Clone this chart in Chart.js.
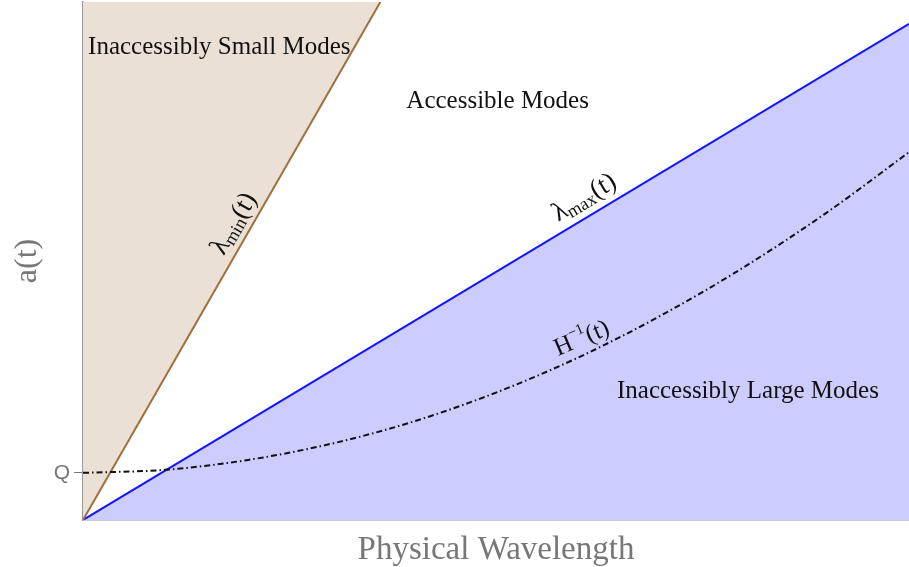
<!DOCTYPE html>
<html>
<head>
<meta charset="utf-8">
<script src="https://cdn.jsdelivr.net/npm/chart.js@4.4.1/dist/chart.umd.min.js"></script>
<style>
  html, body { margin: 0; padding: 0; background: #ffffff; }
  #wrap { width: 909px; height: 567px; }
</style>
</head>
<body>
<div id="wrap"><canvas id="c" width="909" height="567"></canvas></div>
<script>
// Physical wavelength (x) against scale factor a(t) (y), arbitrary units
const lambdaMinX = [0, 3.6];
const lambdaMinY = [0, 10];
const lambdaMaxX = [0, 10];
const lambdaMaxY = [0, 9.58];
const hubbleX = [0, 1, 2, 3, 4, 5, 6, 7, 8, 9, 10];
const hubbleY = [0.91, 0.97, 1.16, 1.47, 1.90, 2.46, 3.14, 3.95, 4.88, 5.93, 7.10];
const qValue = 0.91;
const yTickLabels = ['Q'];

const pts = (xs, ys) => xs.map((x, i) => ({ x: x, y: ys[i] }));

const SERIF = '"Liberation Serif", "Times New Roman", serif';
const SANS = '"Liberation Sans", Arial, sans-serif';

// Region and curve labels, placed in data coordinates
const labels = [
  { x: 1.65, y: 9.13, rot: 0, parts: [{ t: 'Inaccessibly Small Modes', s: 25 }] },
  { x: 5.02, y: 8.09, rot: 0, parts: [{ t: 'Accessible Modes', s: 25 }] },
  { x: 8.05, y: 2.49, rot: 0, parts: [{ t: 'Inaccessibly Large Modes', s: 25 }] },
  { x: 1.83, y: 5.72, rot: -60, parts: [{ t: 'λ', s: 27 }, { t: 'min', s: 18, dy: 6 }, { t: '(t)', s: 27 }] },
  { x: 6.07, y: 6.22, rot: -31, parts: [{ t: 'λ', s: 27 }, { t: 'max', s: 18, dy: 6 }, { t: '(t)', s: 27 }] },
  { x: 6.04, y: 3.50, rot: -23, parts: [{ t: 'H', s: 25 }, { t: '−1', s: 15, dy: -9 }, { t: '(t)', s: 25 }] }
];

const labelPlugin = {
  id: 'regionLabels',
  afterDatasetsDraw(chart) {
    const ctx = chart.ctx;
    const xs = chart.scales.x, ys = chart.scales.y;
    labels.forEach(l => {
      const px = xs.getPixelForValue(l.x);
      const py = ys.getPixelForValue(l.y);
      ctx.save();
      ctx.translate(px, py);
      ctx.rotate(l.rot * Math.PI / 180);
      ctx.fillStyle = '#111111';
      ctx.textBaseline = 'middle';
      ctx.textAlign = 'left';
      let total = 0;
      l.parts.forEach(p => {
        ctx.font = p.s + 'px ' + SERIF;
        p.w = ctx.measureText(p.t).width;
        total += p.w;
      });
      let cx = -total / 2;
      l.parts.forEach(p => {
        ctx.font = p.s + 'px ' + SERIF;
        ctx.fillText(p.t, cx, p.dy || 0);
        cx += p.w;
      });
      ctx.restore();
    });
  }
};

new Chart(document.getElementById('c'), {
  type: 'scatter',
  data: {
    datasets: [
      {
        label: 'λmin(t)',
        data: pts(lambdaMinX, lambdaMinY),
        showLine: true,
        borderColor: 'rgb(160,110,60)',
        borderWidth: 2,
        pointRadius: 0,
        fill: 'end',
        backgroundColor: 'rgb(235,224,214)',
        order: 2
      },
      {
        label: 'λmax(t)',
        data: pts(lambdaMaxX, lambdaMaxY),
        showLine: true,
        borderColor: 'rgb(20,20,255)',
        borderWidth: 2,
        pointRadius: 0,
        fill: 'start',
        backgroundColor: 'rgb(204,204,255)',
        order: 3
      },
      {
        label: 'H⁻¹(t)',
        data: pts(hubbleX, hubbleY),
        showLine: true,
        borderColor: '#111111',
        borderWidth: 2,
        borderDash: [6, 3, 1.5, 3],
        cubicInterpolationMode: 'monotone',
        pointRadius: 0,
        fill: false,
        order: 1
      }
    ]
  },
  options: {
    responsive: false,
    animation: false,
    devicePixelRatio: 1,
    layout: { padding: { top: 2, right: 0, left: 0, bottom: 0 } },
    plugins: {
      legend: { display: false },
      tooltip: { enabled: false }
    },
    scales: {
      x: {
        type: 'linear',
        min: 0,
        max: 10,
        grid: { display: false },
        border: { display: true, color: '#9a9a9a', width: 1.5 },
        ticks: { display: false },
        title: {
          display: true,
          text: 'Physical Wavelength',
          color: '#777777',
          font: { family: SERIF, size: 33 },
          padding: { top: 9, bottom: -3 }
        },
        afterFit(scale) { scale.height = 47; scale.paddingLeft = 0; scale.paddingRight = 0; }
      },
      y: {
        type: 'linear',
        min: 0,
        max: 10,
        grid: {
          display: true,
          drawOnChartArea: false,
          drawTicks: true,
          tickLength: 9,
          color: '#777777',
          lineWidth: 1
        },
        border: { display: true, color: '#9a9a9a', width: 1.5 },
        afterBuildTicks(scale) { scale.ticks = [{ value: qValue }]; },
        ticks: {
          callback: (v, i) => yTickLabels[i],
          color: '#777777',
          font: { family: SANS, size: 21 },
          padding: 4
        },
        title: {
          display: true,
          text: 'a(t)',
          color: '#777777',
          font: { family: SERIF, size: 32 },
          padding: { top: 8, bottom: 0 }
        },
        afterFit(scale) { scale.width = 83; scale.paddingTop = 0; scale.paddingBottom = 0; }
      }
    }
  },
  plugins: [labelPlugin]
});
</script>
</body>
</html>
